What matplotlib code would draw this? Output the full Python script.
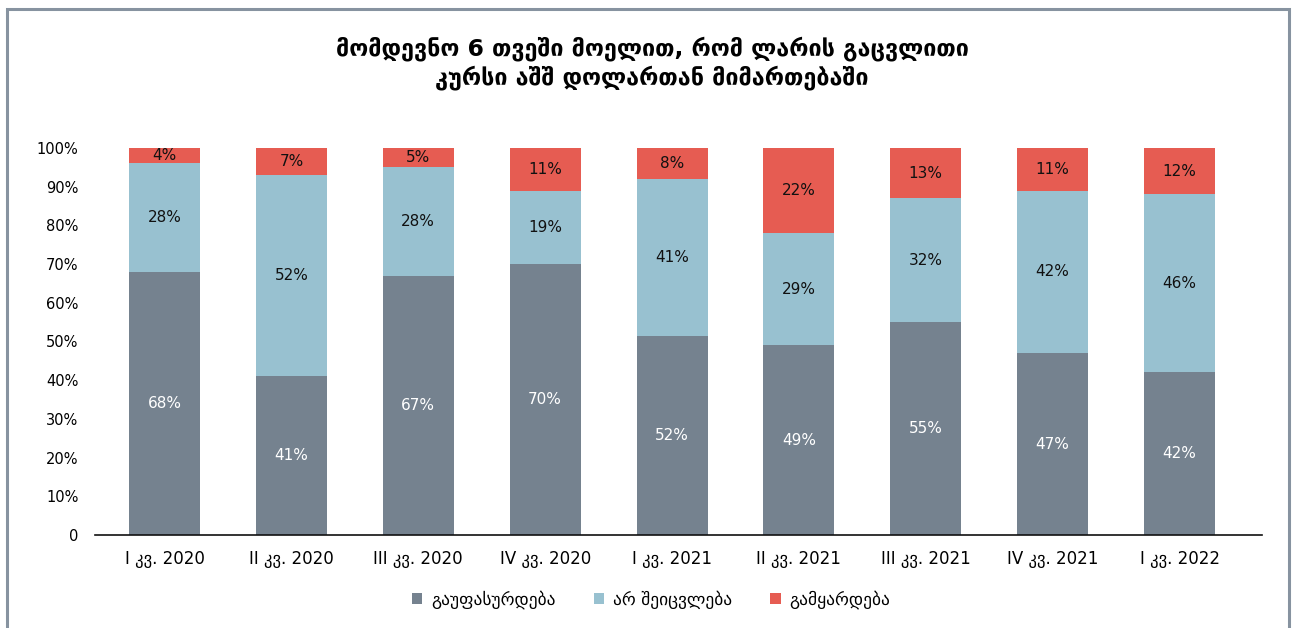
import matplotlib
matplotlib.use("Agg")
import matplotlib.pyplot as plt
from matplotlib.patches import Rectangle
import numpy as np

plt.rcParams['font.family'] = ['DejaVu Sans']

categories = ["I კვ. 2020", "II კვ. 2020", "III კვ. 2020", "IV კვ. 2020",
              "I კვ. 2021", "II კვ. 2021", "III კვ. 2021", "IV კვ. 2021", "I კვ. 2022"]
depreciate = [68, 41, 67, 70, 52, 49, 55, 47, 42]
unchanged = [28, 52, 28, 19, 41, 29, 32, 42, 46]
appreciate = [4, 7, 5, 11, 8, 22, 13, 11, 12]
series_names = ["გაუფასურდება", "არ შეიცვლება", "გამყარდება"]
colors = ["#75828f", "#98c1d0", "#e65c52"]
title = "მომდევნო 6 თვეში მოელით, რომ ლარის გაცვლითი\nკურსი აშშ დოლართან მიმართებაში"

W, H = 1292, 628
fig = plt.figure(figsize=(W / 100, H / 100), dpi=100)
ax = fig.add_axes([95 / W, 1 - 535 / H, (1262 - 95) / W, (535 - 148) / H])

x = np.arange(len(categories))
data = np.array([depreciate, unchanged, appreciate], dtype=float)
totals = data.sum(axis=0)
pct = data / totals * 100
bottom = np.zeros(len(categories))
width = 0.56
for i, (vals, p) in enumerate(zip(data, pct)):
    ax.bar(x, p, width, bottom=bottom, color=colors[i], label=series_names[i], zorder=2)
    for xi, b, h, v in zip(x, bottom, p, vals):
        ax.text(xi, b + h / 2, f"{int(v)}%", ha="center", va="center",
                fontsize=11, color="white" if i == 0 else "#111111")
    bottom += p

ax.set_xlim(-0.548, 8.65)
ax.set_ylim(0, 100)
ax.set_yticks(np.arange(0, 101, 10))
ax.set_yticklabels(["0"] + [f"{v}%" for v in range(10, 101, 10)], fontsize=10.5)
ax.set_xticks(x)
ax.set_xticklabels(categories, fontsize=12)
for s in ["left", "right", "top"]:
    ax.spines[s].set_visible(False)
ax.spines["bottom"].set_color("#111111")
ax.spines["bottom"].set_linewidth(1.2)
ax.tick_params(axis="both", length=0)
ax.tick_params(axis="x", pad=11)
ax.tick_params(axis="y", pad=12)

fig.text(652 / W, 1 - 63 / H, title, ha="center", va="center",
         fontsize=16.8, fontweight="bold", linespacing=1.2)

leg = fig.legend(*ax.get_legend_handles_labels(), loc="center",
                 bbox_to_anchor=(651 / W, 1 - 600 / H), ncol=3, frameon=False,
                 fontsize=12.5, handlelength=0.6, handleheight=0.6,
                 columnspacing=2.2, handletextpad=0.5)

fig.patches.append(Rectangle((7 / W, -0.1), (1289 - 7) / W, 1 - 9 / H + 0.1,
                             transform=fig.transFigure, fill=False,
                             edgecolor="#8793a0", linewidth=2.2))

fig.savefig("out.png", dpi=100)
